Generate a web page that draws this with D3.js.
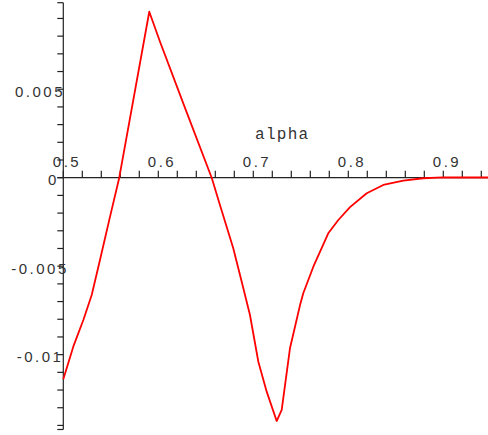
<!DOCTYPE html>
<html>
<head>
<meta charset="utf-8">
<script src="https://cdn.jsdelivr.net/npm/d3@7"></script>
<style>
    body { margin: 0; background: white; }
</style>
</head>
<body>
<script>
// alpha values (x) and the plotted quantity (y)
const alpha = [0.5, 0.5105, 0.5211, 0.5299, 0.5386, 0.5492, 0.5589, 0.5905, 0.6018, 0.6280,
    0.6562, 0.6649, 0.6789, 0.6878, 0.6965, 0.7053, 0.7141, 0.7246, 0.7299, 0.7386,
    0.7439, 0.7492, 0.7526, 0.7632, 0.7789, 0.7895, 0.8018, 0.8194, 0.8368, 0.8579,
    0.8789, 0.9, 0.95];
const values = [-0.01139, -0.00955, -0.00804, -0.00663, -0.00465, -0.00220, 0.0, 0.00938, 0.00768, 0.00396,
    0.0, -0.00154, -0.00399, -0.00588, -0.00776, -0.01040, -0.01209, -0.01375, -0.01312, -0.00964,
    -0.00842, -0.00720, -0.00653, -0.00503, -0.00314, -0.00239, -0.00166, -0.00088, -0.00041, -0.00017,
    -0.00003, 0.00002, 0.00001];

const x_labels = [0.5, 0.6, 0.7, 0.8, 0.9];
const y_labels = [0.005, 0, -0.005, -0.01];
const x_domain = [0.5, 0.95];
const y_domain = [-0.01423, 0.00989];
const x_title = "alpha";

const width = 488;
const height = 435;

const svg = d3
    .select("body")
    .append("svg")
    .attr("width", width)
    .attr("height", height);

const x = d3.scaleLinear()
    .domain(x_domain)
    .range([63.3, 490.8]);
const y = d3.scaleLinear()
    .domain(y_domain)
    .range([429.5, 2.7]);

const axis_colour = "#222";
const label_font = "'Liberation Sans', Arial, sans-serif";

// x axis (drawn at y = 0), ticks pointing up
const x_ticks = d3.range(26).map(i => 0.5 + i * 0.02).filter(v => v <= 0.945);
const x_axis = svg.append("g").attr("id", "x_axis");
x_axis.append("line")
    .attr("x1", x(0.5) - 6).attr("x2", width)
    .attr("y1", y(0)).attr("y2", y(0))
    .attr("stroke", axis_colour)
    .attr("stroke-width", 1.2);
x_axis.selectAll("line.tick")
    .data(x_ticks)
    .join("line")
    .attr("class", "tick")
    .attr("x1", d => x(d)).attr("x2", d => x(d))
    .attr("y1", y(0)).attr("y2", y(0) - 7)
    .attr("stroke", axis_colour)
    .attr("stroke-width", 1.2);
x_axis.selectAll("text")
    .data(x_labels)
    .join("text")
    .attr("x", d => x(d) - 10.5)
    .attr("y", y(0) - 11)
    .attr("font-family", label_font)
    .attr("font-size", 15)
    .attr("letter-spacing", 2.5)
    .attr("fill", "#333")
    .text(d => d.toFixed(1));

// y axis (drawn at alpha = 0.5), ticks pointing left
const y_ticks = d3.range(-14, 10).map(i => i * 0.001).concat(y_domain);
const y_axis = svg.append("g").attr("id", "y_axis");
y_axis.append("line")
    .attr("x1", x(0.5)).attr("x2", x(0.5))
    .attr("y1", y(y_domain[0])).attr("y2", y(y_domain[1]))
    .attr("stroke", axis_colour)
    .attr("stroke-width", 1.2);
y_axis.selectAll("line.tick")
    .data(y_ticks)
    .join("line")
    .attr("class", "tick")
    .attr("x1", x(0.5) - 6).attr("x2", x(0.5))
    .attr("y1", d => y(d)).attr("y2", d => y(d))
    .attr("stroke", axis_colour)
    .attr("stroke-width", 1.2);
y_axis.selectAll("text")
    .data(y_labels)
    .join("text")
    .attr("x", d => d === 0 ? 48 : 40)
    .attr("y", d => y(d) + 7.5)
    .attr("text-anchor", d => d === 0 ? "start" : "middle")
    .attr("font-family", label_font)
    .attr("font-size", 15)
    .attr("letter-spacing", 2.5)
    .attr("fill", "#333")
    .text(d => d === 0 ? "0" : String(d));

// axis title
svg.append("text")
    .attr("x", 255)
    .attr("y", 139)
    .attr("font-family", "'Liberation Mono', 'Courier New', monospace")
    .attr("font-size", 16)
    .attr("letter-spacing", 1.3)
    .attr("fill", "#333")
    .text(x_title);

// curve
const line = d3.line()
    .x(d => x(d[0]))
    .y(d => y(d[1]));
svg.append("path")
    .datum(d3.zip(alpha, values))
    .attr("d", line)
    .attr("fill", "none")
    .attr("stroke", "red")
    .attr("stroke-width", 1.8)
    .attr("stroke-linejoin", "round");
</script>
</body>
</html>
